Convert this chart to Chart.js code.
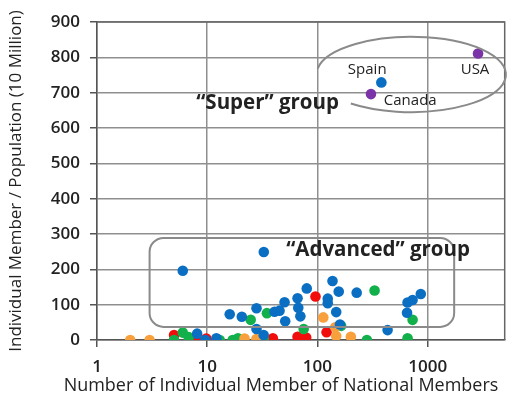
<!DOCTYPE html>
<html>
<head>
<meta charset="utf-8">
<script src="https://cdn.jsdelivr.net/npm/chart.js@4/dist/chart.umd.min.js"></script>
<style>
  html, body { margin: 0; padding: 0; background: #fff; }
  #wrap { width: 510px; height: 403px; }
</style>
</head>
<body>
<div id="wrap"><canvas id="chart" width="510" height="403"></canvas></div>
<script>
// values: [members, members per 10 million]
const bluePoints = [
  [6, 196], [8.1, 18], [9.6, 0], [12.1, 5], [16, 73], [20.6, 66], [28, 90], [28, 31],
  [32.5, 14], [32.6, 249], [40.8, 80], [45.3, 83], [50.3, 107], [51, 53], [66, 118],
  [67, 91], [70, 67], [80, 146], [124, 117], [124, 104], [137, 167], [148, 79],
  [156, 137], [160, 44], [227, 134], [433, 28], [650, 77], [657, 106], [730, 113],
  [866, 130], [380, 729]
];
const orangePoints = [
  [2, 0], [3, 0], [21.8, 4], [27.9, 3], [113, 64], [145, 36], [148, 11], [201, 9]
];
const greenPoints = [
  [5, 0], [6, 21], [6.8, 8], [13, 0], [17, 0], [19, 5], [24.8, 57], [32.5, 5],
  [34.8, 76], [75, 31], [164, 40], [281, 0], [330, 140], [657, 5], [730, 57]
];
const redPoints = [
  [5, 14], [8, 0], [9.8, 4], [39.4, 5], [66, 9], [79, 7], [96, 123], [121, 22]
];
const purplePoints = [[306, 696], [2865, 811]];

const xTicks = [1, 10, 100, 1000];
const yTicks = [0, 100, 200, 300, 400, 500, 600, 700, 800, 900];
const xTitle = 'Number of Individual Member of National Members';
const yTitle = 'Individual Member / Population (10 Million)';

// text labels and group outlines, in data units
const notes = [
  { text: 'Spain', x: 283, y: 764, size: 15, weight: 400 },
  { text: 'USA', x: 2690, y: 764, size: 15, weight: 400 },
  { text: 'Canada', x: 695, y: 676, size: 15, weight: 400 },
  { text: '\u201cSuper\u201d group', x: 35.3, y: 671, size: 20.5, weight: 700 },
  { text: '\u201cAdvanced\u201d group', x: 355, y: 255, size: 20.5, weight: 700 }
];
const advancedBox = { x0: 3.0, x1: 1740, y0: 37, y1: 289 };
const superEllipse = { x0: 98, x1: 5130, y0: 645, y1: 858 };

const toXY = arr => arr.map(p => ({ x: p[0], y: p[1] }));
const FONT = '"Open Sans", "Noto Sans", sans-serif';

const overlay = {
  id: 'overlay',
  afterDatasetsDraw(chart) {
    const { ctx, chartArea: a, scales: { x, y } } = chart;
    ctx.save();
    // plot frame (top and right)
    ctx.strokeStyle = '#666';
    ctx.lineWidth = 1.5;
    ctx.beginPath();
    ctx.moveTo(a.left, a.top);
    ctx.lineTo(a.right, a.top);
    ctx.lineTo(a.right, a.bottom);
    ctx.stroke();

    // advanced group box
    ctx.strokeStyle = '#8a8a8a';
    ctx.lineWidth = 2;
    const bx0 = x.getPixelForValue(advancedBox.x0), bx1 = x.getPixelForValue(advancedBox.x1);
    const by0 = y.getPixelForValue(advancedBox.y1), by1 = y.getPixelForValue(advancedBox.y0);
    ctx.beginPath();
    ctx.roundRect(bx0, by0, bx1 - bx0, by1 - by0, 14);
    ctx.stroke();

    // super group ellipse, open at the lower left
    const ex0 = x.getPixelForValue(superEllipse.x0), ex1 = x.getPixelForValue(superEllipse.x1);
    const ey0 = y.getPixelForValue(superEllipse.y1), ey1 = y.getPixelForValue(superEllipse.y0);
    ctx.beginPath();
    ctx.ellipse((ex0 + ex1) / 2, (ey0 + ey1) / 2, (ex1 - ex0) / 2, (ey1 - ey0) / 2, 0,
      Math.PI * 1.05, Math.PI * 0.72);
    ctx.stroke();

    ctx.fillStyle = '#222';
    ctx.textAlign = 'center';
    ctx.textBaseline = 'middle';
    notes.forEach(n => {
      ctx.font = n.weight + ' ' + n.size + 'px ' + FONT;
      ctx.fillText(n.text, x.getPixelForValue(n.x), y.getPixelForValue(n.y));
    });

    // x axis title: about 435px wide, centred a bit left of the plot
    ctx.font = '400 20px ' + FONT;
    const w = ctx.measureText(xTitle).width;
    const size = Math.min(20, 20 * 435 / w);
    ctx.font = '400 ' + size.toFixed(2) + 'px ' + FONT;
    ctx.fillText(xTitle, 281, 386);
    ctx.restore();
  }
};

const pointSet = (label, data, color) => ({
  label: label,
  data: toXY(data),
  backgroundColor: color,
  borderColor: color,
  pointRadius: 5.3,
  pointBorderWidth: 0
});

new Chart(document.getElementById('chart'), {
  type: 'scatter',
  data: {
    datasets: [
      pointSet('blue', bluePoints, '#0a6fc2'),
      pointSet('purple', purplePoints, '#7a34a8'),
      pointSet('orange', orangePoints, '#f7a03c'),
      pointSet('green', greenPoints, '#12b04a'),
      pointSet('red', redPoints, '#f20d0d')
    ]
  },
  options: {
    responsive: false,
    animation: false,
    layout: { padding: { top: 22, right: 5, left: 0, bottom: 0 } },
    plugins: { legend: { display: false }, tooltip: { enabled: false } },
    scales: {
      x: {
        type: 'logarithmic',
        min: 1,
        max: 5000,
        afterBuildTicks: s => { s.ticks = xTicks.map(v => ({ value: v })); },
        afterFit: s => { s.height = 63; },
        ticks: {
          color: '#222',
          font: { family: FONT, size: 17, weight: 600 },
          padding: 10,
          maxRotation: 0,
          callback: v => String(v)
        },
        grid: { color: '#8f8f8f', lineWidth: 1.5, tickLength: 7, tickColor: '#555' },
        border: { color: '#555', width: 1.5 },
        title: { display: false }
      },
      y: {
        min: 0,
        max: 900,
        afterBuildTicks: s => { s.ticks = yTicks.map(v => ({ value: v })); },
        afterFit: s => { s.width = 97; },
        ticks: {
          color: '#222',
          font: { family: FONT, size: 17, weight: 600 },
          padding: 10
        },
        grid: { color: '#8f8f8f', lineWidth: 1.5, tickLength: 7, tickColor: '#555' },
        border: { color: '#555', width: 1.5 },
        title: {
          display: true,
          text: yTitle,
          color: '#222',
          font: { family: FONT, size: 17, weight: 400 },
          padding: { top: 6, bottom: 0 }
        }
      }
    }
  },
  plugins: [overlay]
});
</script>
</body>
</html>
